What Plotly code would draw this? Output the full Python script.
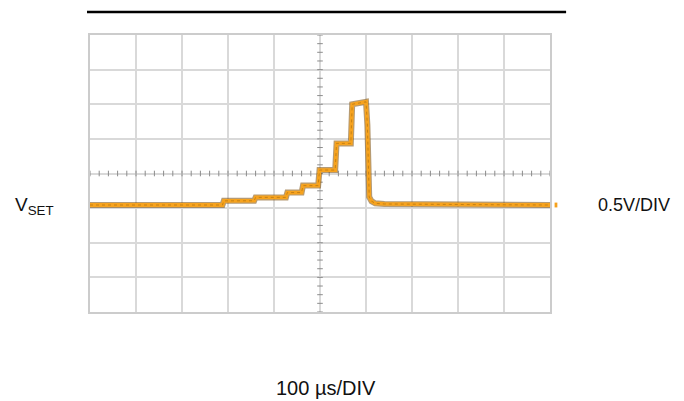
import plotly.graph_objects as go
import numpy as np

# Waveform (time in µs, voltage in V relative to screen centre)
time_us = [0, 100, 200, 288, 291, 357, 360, 426, 429, 460, 463, 496, 499, 533, 536, 567, 570, 585, 600, 603, 607, 612, 620, 640, 700, 800, 900, 1000]
vset_v = [-0.455, -0.452, -0.455, -0.455, -0.395, -0.393, -0.345, -0.345, -0.275, -0.275, -0.175, -0.175, 0.05, 0.05, 0.435, 0.435, 1.0, 1.02, 1.035, 0.7, -0.34, -0.40, -0.43, -0.44, -0.445, -0.45, -0.452, -0.455]

x_range = [0, 1000]
y_range = [-2, 2]
x_div = 100
y_div = 0.5

fig = go.Figure()

# minor graticule ticks on the centre lines
tx = np.arange(0, 1000.1, 20)
fig.add_trace(go.Scatter(x=tx, y=[0] * len(tx), mode="markers",
                         marker=dict(symbol="line-ns", size=4, color="#8c8c8c",
                                     line=dict(color="#8c8c8c", width=1)),
                         hoverinfo="skip", showlegend=False))
ty = np.arange(-2, 2.001, 0.125)
fig.add_trace(go.Scatter(x=[500] * len(ty), y=ty, mode="markers",
                         marker=dict(symbol="line-ew", size=4, color="#8c8c8c",
                                     line=dict(color="#8c8c8c", width=1)),
                         hoverinfo="skip", showlegend=False))

# trace: dark noisy edge under an orange band
fig.add_trace(go.Scatter(x=time_us, y=vset_v, mode="lines",
                         line=dict(color="#7a4a05", width=6), opacity=0.55,
                         showlegend=False, hoverinfo="skip"))
fig.add_trace(go.Scatter(x=time_us, y=vset_v, mode="lines",
                         line=dict(color="#F7A31E", width=3.8), showlegend=False, hoverinfo="skip"))
fig.add_trace(go.Scatter(x=time_us, y=vset_v, mode="lines",
                         line=dict(color="#6e4300", width=1, dash="dot"), opacity=0.35,
                         showlegend=False, hoverinfo="skip"))

fig.update_xaxes(range=x_range, dtick=x_div, showticklabels=False, ticks="",
                 showgrid=True, gridcolor="#d9d9d9", gridwidth=1.5, zeroline=False,
                 showline=True, linecolor="#cccccc", linewidth=2, mirror=True, fixedrange=True)
fig.update_yaxes(range=y_range, dtick=y_div, showticklabels=False, ticks="",
                 showgrid=True, gridcolor="#d9d9d9", gridwidth=1.5, zeroline=False,
                 showline=True, linecolor="#cccccc", linewidth=2, mirror=True, fixedrange=True)

# top black rule
fig.add_shape(type="line", xref="paper", yref="paper", x0=-0.0065, x1=1.035, y0=1.083, y1=1.083,
              line=dict(color="black", width=2.5))
# channel marker
fig.add_shape(type="rect", xref="paper", yref="y", x0=1.010, x1=1.016, y0=-0.49, y1=-0.42,
              line=dict(width=0), fillcolor="#F5A11C")

fig.add_annotation(text="V<sub>SET</sub>", xref="paper", yref="y", x=-0.073, y=-0.47,
                   xanchor="right", yanchor="middle", showarrow=False,
                   font=dict(family="Liberation Sans, Arial, sans-serif", size=19, color="#111111"))
fig.add_annotation(text="0.5V/DIV", xref="paper", yref="y", x=1.100, y=-0.45,
                   xanchor="left", yanchor="middle", showarrow=False,
                   font=dict(family="Liberation Sans, Arial, sans-serif", size=18, color="#111111"))
fig.add_annotation(text="100 µs/DIV", xref="paper", yref="paper", x=0.514, y=-0.275,
                   xanchor="center", yanchor="middle", showarrow=False,
                   font=dict(family="Liberation Sans, Arial, sans-serif", size=20, color="#111111"))

# page body adds an 8px margin, so the figure is 8px smaller and the margins are shifted
fig.update_layout(width=676, height=393, margin=dict(l=82, r=134, t=27, b=89),
                  plot_bgcolor="white", paper_bgcolor="white")

fig.write_html("out.html")
